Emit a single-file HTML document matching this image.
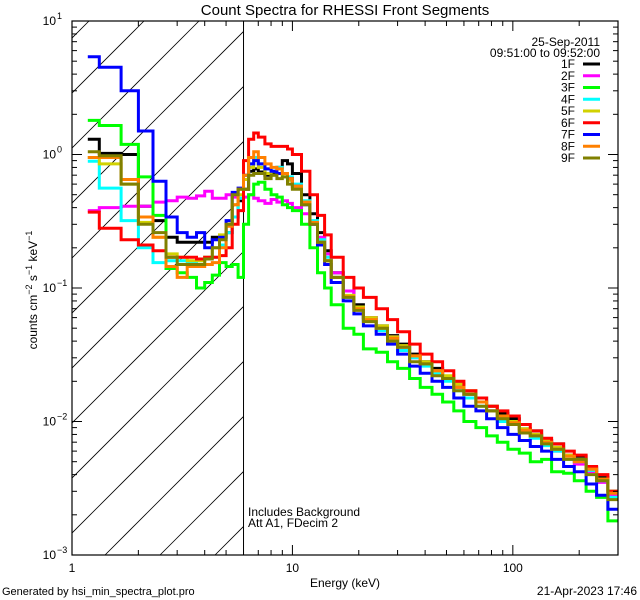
<!DOCTYPE html>
<html><head><meta charset="utf-8"><style>
body{margin:0;background:#fff;}
svg{display:block;font-family:"Liberation Sans",sans-serif;}
</style></head><body>
<svg id="chart" width="640" height="600" viewBox="0 0 640 600" xmlns="http://www.w3.org/2000/svg">
<rect width="640" height="600" fill="#fff"/>
<text x="345" y="15" font-size="15" text-anchor="middle">Count Spectra for RHESSI Front Segments</text>
<g id="hatch"></g>
<g id="series"></g>
<g id="axes"></g>
<text x="600" y="46" font-size="12" text-anchor="end">25-Sep-2011</text>
<text x="600" y="57" font-size="12" text-anchor="end">09:51:00 to 09:52:00</text>
<g id="legend"></g>
<text x="248" y="516" font-size="12">Includes Background</text>
<text x="248" y="527" font-size="12">Att A1, FDecim 2</text>
<text x="345" y="587" font-size="12" text-anchor="middle">Energy (keV)</text>
<text transform="translate(37,290) rotate(-90)" font-size="12" text-anchor="middle">counts cm<tspan dy="-5" font-size="9">−2</tspan><tspan dy="5"> s</tspan><tspan dy="-5" font-size="9">−1</tspan><tspan dy="5"> keV</tspan><tspan dy="-5" font-size="9">−1</tspan></text>
<text x="2" y="595" font-size="11">Generated by hsi_min_spectra_plot.pro</text>
<text x="637" y="595" font-size="12" text-anchor="end">21-Apr-2023 17:46</text>
</svg>
<script>
const energyEdges=[1.18,1.33,1.67,2.0,2.33,2.67,3.0,3.33,3.67,4.0,4.33,4.67,5.0,5.33,5.67,6.0,6.33,6.67,7,7.5,8,8.5,9,9.5,10,11,12,13,14,15,17,19,21,24,27,30,34,38,43,48,54,60,68,76,85,95,107,120,135,150,170,190,215,240,270,300];
const seriesNames=["1F","2F","3F","4F","5F","6F","7F","8F","9F"];
const seriesColors=["#000000","#ff00ff","#00ff00","#00ffff","#d2d200","#ff0000","#0000ff","#ff8000","#808000"];
const s1F=[1.3,1.02,1.0,0.41,0.32,0.24,0.22,0.22,0.22,0.22,0.24,0.24,0.26,0.34,0.45, 0.55,0.75,0.78,0.74,0.7,0.72,0.8,0.9,0.85,0.72,0.5,0.36,0.26,0.19,0.13,0.095,0.075,0.06,0.052,0.044,0.038,0.032,0.028,0.025,0.021,0.019,0.016,0.015,0.013,0.0115,0.0105,0.0088,0.0085,0.0072,0.0068,0.0056,0.0055,0.0045,0.0038,0.003];
const s2F=[0.38,0.4,0.41,0.41,0.44,0.45,0.48,0.47,0.49,0.53,0.47,0.47,0.5,0.48,0.47, 0.48,0.5,0.47,0.45,0.43,0.46,0.44,0.45,0.43,0.4,0.36,0.3,0.24,0.18,0.13,0.095,0.072,0.06,0.05,0.043,0.036,0.03,0.027,0.024,0.021,0.018,0.016,0.014,0.012,0.011,0.0095,0.0086,0.0076,0.007,0.006,0.0056,0.0048,0.0042,0.0035,0.0028];
const s3F=[1.8,1.65,1.19,0.68,0.35,0.14,0.13,0.12,0.1,0.11,0.125,0.155,0.145,0.15,0.12, 0.3,0.5,0.6,0.62,0.55,0.5,0.48,0.42,0.4,0.38,0.3,0.2,0.13,0.1,0.075,0.05,0.045,0.035,0.033,0.028,0.025,0.021,0.018,0.016,0.014,0.012,0.01,0.009,0.0078,0.007,0.0062,0.0058,0.005,0.0052,0.0042,0.0041,0.0036,0.003,0.0027,0.0018];
const s4F=[0.89,0.56,0.32,0.2,0.155,0.16,0.16,0.155,0.16,0.17,0.17,0.21,0.26,0.34,0.47, 0.7,0.85,0.95,0.85,0.78,0.75,0.8,0.72,0.68,0.6,0.45,0.32,0.23,0.17,0.12,0.085,0.07,0.057,0.048,0.04,0.034,0.03,0.026,0.023,0.02,0.017,0.015,0.013,0.012,0.01,0.0095,0.0082,0.0075,0.0066,0.006,0.0052,0.005,0.0043,0.0036,0.0027];
const s5F=[0.95,0.85,0.6,0.31,0.24,0.18,0.17,0.16,0.16,0.17,0.2,0.25,0.3,0.42,0.5, 0.65,0.8,0.9,0.8,0.72,0.7,0.72,0.68,0.64,0.56,0.44,0.3,0.22,0.16,0.12,0.088,0.072,0.06,0.052,0.043,0.037,0.031,0.028,0.024,0.022,0.019,0.017,0.014,0.013,0.011,0.01,0.0088,0.008,0.0072,0.0064,0.0056,0.0052,0.0044,0.0037,0.003];
const s6F=[0.37,0.28,0.23,0.21,0.19,0.17,0.17,0.17,0.165,0.17,0.17,0.175,0.2,0.3,0.38, 0.9,1.3,1.45,1.35,1.2,1.15,1.15,1.15,1.1,1.0,0.75,0.5,0.35,0.25,0.17,0.12,0.1,0.085,0.07,0.058,0.047,0.038,0.032,0.028,0.024,0.02,0.017,0.015,0.013,0.012,0.011,0.0095,0.0085,0.0075,0.0068,0.006,0.0056,0.0046,0.004,0.003];
const s7F=[5.4,4.5,3.0,1.5,0.63,0.34,0.26,0.24,0.26,0.2,0.23,0.24,0.32,0.52,0.56, 0.7,0.85,0.9,0.85,0.78,0.75,0.72,0.72,0.66,0.58,0.42,0.3,0.21,0.15,0.11,0.08,0.064,0.052,0.045,0.038,0.032,0.026,0.023,0.02,0.018,0.015,0.013,0.012,0.0105,0.009,0.008,0.0072,0.0065,0.006,0.0052,0.0046,0.0042,0.0034,0.0028,0.0022];
const s8F=[0.95,0.95,0.65,0.34,0.24,0.145,0.12,0.145,0.145,0.15,0.155,0.2,0.29,0.42,0.55, 0.7,0.95,1.05,0.95,0.85,0.8,0.78,0.72,0.66,0.58,0.44,0.31,0.22,0.16,0.12,0.086,0.07,0.058,0.05,0.042,0.036,0.031,0.027,0.024,0.021,0.018,0.016,0.014,0.012,0.011,0.0098,0.0086,0.0078,0.007,0.0062,0.0055,0.005,0.0044,0.0037,0.0029];
const s9F=[1.05,0.98,0.6,0.3,0.26,0.17,0.15,0.15,0.15,0.165,0.2,0.23,0.3,0.5,0.55, 0.55,0.7,0.72,0.72,0.66,0.7,0.66,0.68,0.6,0.55,0.42,0.3,0.22,0.16,0.12,0.085,0.068,0.056,0.05,0.04,0.036,0.028,0.027,0.022,0.021,0.017,0.016,0.013,0.012,0.0105,0.0095,0.0082,0.0078,0.0068,0.0062,0.0052,0.0052,0.004,0.0036,0.0026];
const seriesValues=[s1F,s2F,s3F,s4F,s5F,s6F,s7F,s8F,s9F];
const xTickMajor=[1,10,100];
const xTickLabels=["1","10","100"];
const yTickExps=[-3,-2,-1,0,1];
const backgroundLimit=6.0;

const NS="http://www.w3.org/2000/svg";
const L=72,R=618,T=21,B=555;
const xMin=1,xMax=300,yMin=1e-3,yMax=10;
function xs(e){return L+(Math.log10(e)-Math.log10(xMin))/(Math.log10(xMax)-Math.log10(xMin))*(R-L);}
function ys(v){return B-(Math.log10(v)-Math.log10(yMin))/(Math.log10(yMax)-Math.log10(yMin))*(B-T);}
function mk(tag,attrs,parent){const el=document.createElementNS(NS,tag);for(const k in attrs)el.setAttribute(k,attrs[k]);parent.appendChild(el);return el;}

// hatch
const hatch=document.getElementById('hatch');
const hx=xs(backgroundLimit);
const cp=mk('clipPath',{id:'hc'},hatch);
mk('rect',{x:L,y:T,width:hx-L,height:B-T},cp);
const hg=mk('g',{'clip-path':'url(#hc)'},hatch);
for(let x0=L-600;x0<hx+10;x0+=55){
  const ln=mk('line',{x1:x0+28,y1:B,x2:x0+28+(B-T),y2:T,stroke:'#000','stroke-width':0.8},hg);
  
  
}
const bl=mk('line',{x1:hx,y1:T,x2:hx,y2:B,stroke:'#000','stroke-width':1},hatch);



// series
const sg=document.getElementById('series');
const sc=mk('clipPath',{id:'pc'},sg);
mk('rect',{x:L,y:T,width:R-L,height:B-T},sc);
seriesValues.forEach((vals,si)=>{
  let d='';
  vals.forEach((v,i)=>{
    const x1=xs(energyEdges[i]),x2=xs(energyEdges[i+1]),y=ys(v);
    d+=(i===0?'M':'L')+x1.toFixed(1)+','+y.toFixed(1)+'L'+x2.toFixed(1)+','+y.toFixed(1);
  });
  const p=mk('path',{d:d,fill:'none',stroke:seriesColors[si],'stroke-width':3,'clip-path':'url(#pc)'},sg);
  
  
});

// axes
const ax=document.getElementById('axes');
const fr=mk('rect',{x:L,y:T,width:R-L,height:B-T,fill:'none',stroke:'#000','stroke-width':1.2},ax);


for(let dec=1;dec<=100;dec*=10){
  for(let m=1;m<=9;m++){
    const e=dec*m; if(e>xMax)break;
    const x=xs(e),len=(m===1)?10:5;
    mk('line',{x1:x,y1:B,x2:x,y2:B-len,stroke:'#000','stroke-width':1},ax);
    mk('line',{x1:x,y1:T,x2:x,y2:T+len,stroke:'#000','stroke-width':1},ax);
  }
}
xTickMajor.forEach((e,i)=>{
  const t=mk('text',{x:xs(e),y:B+17,'font-size':12,'text-anchor':'middle'},ax);
  t.textContent=xTickLabels[i];
  
  
});
yTickExps.forEach(ex=>{
  for(let m=1;m<=9;m++){
    const v=Math.pow(10,ex)*m; if(v>yMax*1.001)break;
    const y=ys(v),len=(m===1)?10:5;
    mk('line',{x1:L,y1:y,x2:L+len,y2:y,stroke:'#000','stroke-width':1},ax);
    mk('line',{x1:R,y1:y,x2:R-len,y2:y,stroke:'#000','stroke-width':1},ax);
  }
  const t=mk('text',{x:L-16,y:ys(Math.pow(10,ex))+4,'font-size':12,'text-anchor':'end'},ax);
  t.textContent='10';
  
  
  const s=mk('text',{x:L-15,y:ys(Math.pow(10,ex))-2,'font-size':9},ax);
  s.textContent=ex<0?'−'+(-ex):String(ex);
  
  
});

// legend
const lg=document.getElementById('legend');
seriesNames.forEach((n,i)=>{
  const y=64+11.75*i;
  const t=mk('text',{x:575,y:y+4,'font-size':12,'text-anchor':'end'},lg);
  t.textContent=n;
  
  
  const l=mk('line',{x1:583,y1:y,x2:600,y2:y,stroke:seriesColors[i],'stroke-width':3},lg);
  
  
});
</script>
</body></html>
